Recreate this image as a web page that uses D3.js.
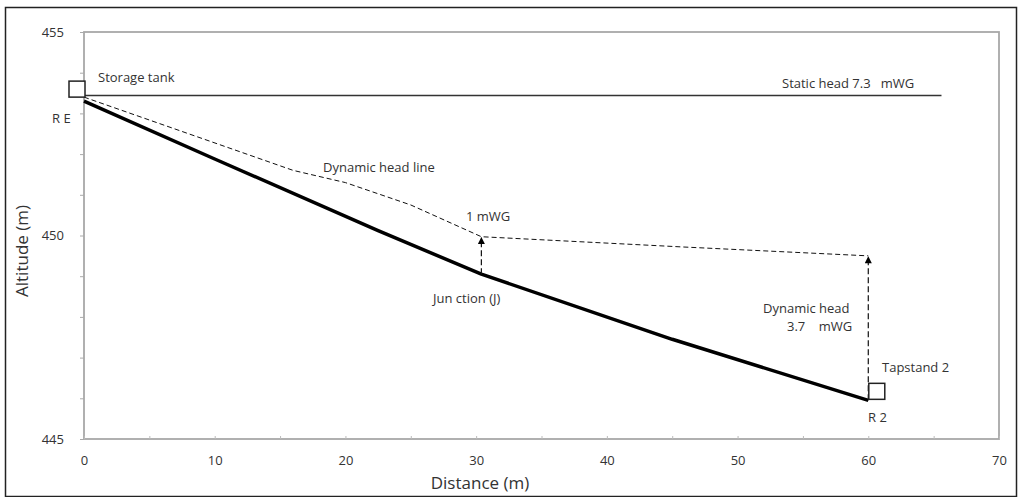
<!DOCTYPE html>
<html><head><meta charset="utf-8">
<script src="https://cdn.jsdelivr.net/npm/d3@7"></script>
<style>
body{margin:0;background:#fff;}
svg text{font-family:"Open Sans",sans-serif;fill:#333;}
</style></head>
<body><svg id="c" width="1019" height="497"></svg>
<script>
// ---- data ----
const groundDist = [0, 10, 22.5, 30.4, 45, 60];
const groundAlt  = [453.3, 451.88, 450.12, 449.05, 447.45, 445.95];
const headDist = [0, 16, 20, 25, 30.4, 45.7, 60];
const headAlt  = [453.4, 451.6, 451.3, 450.75, 449.97, 449.72, 449.5];
const staticDist = [0, 65.6];
const staticAlt = [453.44, 453.44];
const xTicks = [0, 5, 10, 15, 20, 25, 30, 35, 40, 45, 50, 55, 60, 65, 70];
const xLabels = [0, 10, 20, 30, 40, 50, 60, 70];
const yTicks = [445, 446, 447, 448, 449, 450, 451, 452, 453, 454, 455];
const yLabels = [445, 450, 455];
const junction = {dist: 30.4, ground: 449.05, head: 449.97};
const tapstand = {dist: 60, ground: 445.95, head: 449.5};
const tankNode = {dist: 0, alt: 453.4};

const svg = d3.select("#c");
const x = d3.scaleLinear().domain([0, 70]).range([84, 999]);
const y = d3.scaleLinear().domain([445, 455]).range([439, 32]);

// outer frame
svg.append("rect").attr("x", 5.5).attr("y", 7.5).attr("width", 1011).attr("height", 489)
  .attr("fill", "none").attr("stroke", "#222").attr("stroke-width", 1.5);

// plot frame
svg.append("rect").attr("x", x(0)).attr("y", y(455)).attr("width", x(70) - x(0)).attr("height", y(445) - y(455))
  .attr("fill", "none").attr("stroke", "#a8a8a8").attr("stroke-width", 1.8);

// axes
const yAx = svg.append("g").attr("transform", `translate(${x(0)},0)`)
  .call(d3.axisLeft(y).tickValues(yTicks).tickSize(4).tickPadding(16)
    .tickFormat(d => yLabels.includes(d) ? d : ""));
yAx.select(".domain").remove();
yAx.selectAll("line").attr("stroke", "#aaa");
yAx.selectAll("text").style("font-size", "13px").attr("fill", "#333").style("font-family", "'Open Sans',sans-serif");

const xAx = svg.append("g").attr("transform", `translate(0,${y(445)})`)
  .call(d3.axisBottom(x).tickValues(xTicks).tickSize(-3).tickPadding(17)
    .tickFormat(d => xLabels.includes(d) ? d : ""));
xAx.select(".domain").remove();
xAx.selectAll("line").attr("stroke", "#bbb");
xAx.selectAll("text").style("font-size", "13px").attr("fill", "#333").style("font-family", "'Open Sans',sans-serif");

// axis titles
svg.append("text").attr("x", 480).attr("y", 489).attr("text-anchor", "middle")
  .style("font-size", "17px").text("Distance  (m)");
svg.append("text").attr("transform", "translate(28,251) rotate(-90)").attr("text-anchor", "middle")
  .style("font-size", "17px").text("Altitude (m)");

const line = d3.line().x(d => x(d[0])).y(d => y(d[1]));

// static head line
svg.append("path").datum(d3.zip(staticDist, staticAlt)).attr("d", line)
  .attr("fill", "none").attr("stroke", "#333").attr("stroke-width", 1.6);

// dynamic head line
svg.append("path").datum(d3.zip(headDist, headAlt)).attr("d", line)
  .attr("fill", "none").attr("stroke", "#111").attr("stroke-width", 1).attr("stroke-dasharray", "5,3");

// ground profile
svg.append("path").datum(d3.zip(groundDist, groundAlt)).attr("d", line)
  .attr("fill", "none").attr("stroke", "#000").attr("stroke-width", 3.5).attr("stroke-linejoin", "round");

// arrow marker (pointing up)
svg.append("defs").append("marker").attr("id", "arr").attr("viewBox", "0 0 10 10")
  .attr("refX", 5).attr("refY", 1).attr("markerWidth", 7).attr("markerHeight", 8)
  .attr("markerUnits", "userSpaceOnUse").attr("orient", "0")
  .append("path").attr("d", "M0,10 L5,0 L10,10 Z").attr("fill", "#000");

[junction, tapstand].forEach(n => {
  svg.append("line").attr("x1", x(n.dist)).attr("x2", x(n.dist))
    .attr("y1", y(n.ground)).attr("y2", y(n.head) + 1)
    .attr("stroke", "#111").attr("stroke-width", 1.2).attr("stroke-dasharray", "6,3")
    .attr("marker-end", "url(#arr)");
});

// node squares
svg.append("rect").attr("x", x(tankNode.dist) - 15).attr("y", y(tankNode.alt) - 16).attr("width", 16).attr("height", 16)
  .attr("fill", "#fff").attr("stroke", "#222").attr("stroke-width", 1.5);
svg.append("rect").attr("x", x(tapstand.dist) + 0.5).attr("y", y(tapstand.ground) - 17).attr("width", 16).attr("height", 16)
  .attr("fill", "#fff").attr("stroke", "#222").attr("stroke-width", 1.5);

// annotations
const ann = (t, px, py, anchor) => svg.append("text").attr("x", px).attr("y", py)
  .attr("text-anchor", anchor || "start").attr("dy", "0.35em").style("font-size", "13px")
  .style("white-space", "pre").attr("xml:space", "preserve").text(t);
ann("Storage tank", 98, 77);
ann("R E", 52, 118);
ann("Static head 7.3   mWG", 782, 83);
ann("Dynamic head line", 323, 167);
ann("1 mWG", 466, 216);
ann("Jun ction (J)", 433, 298);
ann("Dynamic head", 763, 308);
ann("3.7    mWG", 787, 326);
ann("Tapstand 2", 882, 367);
ann("R 2", 868, 417);
</script></body></html>
